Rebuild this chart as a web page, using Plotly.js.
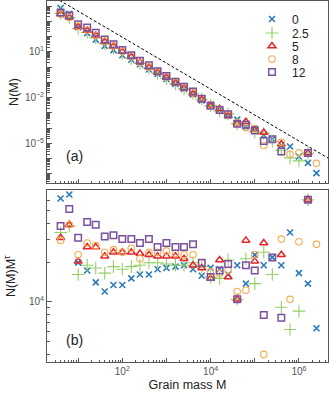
<!DOCTYPE html>
<html>
<head>
<meta charset="utf-8">
<script src="https://cdn.plot.ly/plotly-3.0.1.min.js"></script>
<style>html,body{margin:0;padding:0;background:#fff}</style>
</head>
<body>
<div id="chart" style="width:332px;height:398px"></div>
<script>
// grain mass bins (log spaced)
var grainMass = [4, 6.3, 10, 16, 25, 40, 63, 100, 160, 250, 400, 630,
  1e3, 1.6e3, 2.5e3, 4e3, 6.3e3, 1e4, 1.6e4, 2.5e4, 4e4, 6.3e4,
  1e5, 1.6e5, 2.5e5, 4e5, 6.3e5, 1e6, 1.6e6, 2.5e6];

var seriesNames = ['0', '2.5', '5', '8', '12'];
var seriesColors = ['#2b7bba', '#94d064', '#e4262b', '#f9a94f', '#7b509f'];

// panel (a): log10 N(M)
var logN_0 = [3.86, 3.48, 2.62, 2.22, 1.80, 1.39, 1.11, 0.77, 0.48, 0.18, -0.16, -0.45, -0.78, -1.11, -1.43, -1.80, -2.18, -2.46, -2.81, -3.18, -3.45, -3.92, -4.04, -4.46, -4.73, -5.13, -5.21, -5.86, -6.28, -6.95];
var logN_1 = [3.52, 3.24, 2.53, 2.26, 1.91, 1.53, 1.25, 0.89, 0.57, 0.25, -0.07, -0.40, -0.75, -1.10, -1.43, -1.75, -2.11, -2.53, -2.88, -3.07, -3.71, -3.73, -4.26, -4.36, -4.86, -5.45, -5.95, -6.15, -5.64, null];
var logN_2 = [3.48, 3.25, 2.63, 2.40, 2.07, 1.66, 1.36, 1.02, 0.68, 0.34, -0.01, -0.35, -0.69, -1.03, -1.38, -1.77, -2.12, -2.54, -2.74, -3.20, -3.71, -3.59, -4.09, -4.29, null, -5.05, null, null, -5.64, null];
var logN_3 = [3.46, 3.25, 2.68, 2.43, 2.08, 1.69, 1.38, 1.02, 0.71, 0.30, 0.01, -0.32, -0.65, -1.01, -1.35, -1.69, -2.08, -2.49, -2.84, -3.15, -3.65, -3.97, -4.04, -5.14, null, -4.93, -5.72, -5.62, null, -6.31];
var logN_4 = [3.57, 3.37, 2.81, 2.59, 2.24, 1.81, 1.49, 1.12, 0.78, 0.42, 0.11, -0.28, -0.59, -0.96, -1.29, -1.61, -2.08, -2.53, -2.82, -3.10, -3.71, -3.78, -4.16, -4.84, -4.73, -5.53, null, null, -5.64, null];

// panel (b): log10 N(M)M^tau
var logNM_0 = [4.79, 4.82, 4.30, 4.24, 4.15, 4.08, 4.13, 4.13, 4.18, 4.21, 4.21, 4.25, 4.26, 4.27, 4.28, 4.25, 4.20, 4.26, 4.25, 4.21, 4.28, 4.14, 4.36, 4.28, 4.34, 4.28, 4.53, 4.22, 4.14, 3.80];
var logNM_1 = [4.53, 4.58, 4.21, 4.28, 4.26, 4.22, 4.27, 4.25, 4.27, 4.28, 4.30, 4.30, 4.29, 4.28, 4.28, 4.30, 4.27, 4.19, 4.18, 4.32, 4.02, 4.33, 4.14, 4.38, 4.21, 3.96, 3.79, 3.93, 4.78, null];
var logNM_2 = [4.49, 4.59, 4.31, 4.42, 4.42, 4.35, 4.38, 4.38, 4.38, 4.37, 4.36, 4.35, 4.35, 4.35, 4.33, 4.28, 4.26, 4.18, 4.32, 4.19, 4.02, 4.47, 4.31, 4.45, null, 4.36, null, null, 4.78, null];
var logNM_3 = [4.47, 4.59, 4.36, 4.45, 4.43, 4.38, 4.40, 4.38, 4.41, 4.33, 4.38, 4.38, 4.39, 4.37, 4.36, 4.36, 4.30, 4.23, 4.22, 4.24, 4.08, 4.09, 4.36, 3.60, null, 4.48, 4.02, 4.46, null, 4.44];
var logNM_4 = [4.58, 4.71, 4.49, 4.61, 4.59, 4.50, 4.51, 4.48, 4.48, 4.45, 4.48, 4.42, 4.45, 4.42, 4.42, 4.44, 4.30, 4.19, 4.24, 4.29, 4.02, 4.28, 4.24, 3.90, 4.34, 3.88, null, null, 4.78, null];

// dashed reference line end points
var guideX = [3, 5e6];
var guideY = [3.5e4, 9.3e-7];

var logN = [logN_0, logN_1, logN_2, logN_3, logN_4];
var logNM = [logNM_0, logNM_1, logNM_2, logNM_3, logNM_4];

var markerSpecs = [
  {symbol: 'x-thin', size: 6, lw: 1.6},
  {symbol: 'cross-thin', size: 9, lw: 1.1},
  {symbol: 'triangle-up-open', size: 7, lw: 1.5},
  {symbol: 'circle-open', size: 6.5, lw: 1.1},
  {symbol: 'square-open', size: 6.5, lw: 1.5}
];

function unlog(a) {
  return a.map(function (v) { return v === null ? null : Math.pow(10, v); });
}

var traces = [{
  x: guideX, y: guideY, xaxis: 'x', yaxis: 'y',
  mode: 'lines', line: {color: '#000', width: 1, dash: '3px,2px'},
  showlegend: false, hoverinfo: 'skip'
}];

for (var i = 0; i < 5; i++) {
  var m = {symbol: markerSpecs[i].symbol, size: markerSpecs[i].size, color: seriesColors[i],
           line: {color: seriesColors[i], width: markerSpecs[i].lw}};
  traces.push({
    x: grainMass, y: unlog(logN[i]), xaxis: 'x', yaxis: 'y',
    mode: 'markers', name: seriesNames[i], marker: m,
    legend: i === 0 ? 'legend' : 'legend' + (i + 1)
  });
  traces.push({
    x: grainMass, y: unlog(logNM[i]), xaxis: 'x2', yaxis: 'y2',
    mode: 'markers', name: seriesNames[i], marker: m, showlegend: false
  });
}
// empty traces so the tick-only overlay axes get drawn
traces.push({x: [], y: [], xaxis: 'x', yaxis: 'y3', showlegend: false});
traces.push({x: [], y: [], xaxis: 'x3', yaxis: 'y2', showlegend: false});

function sup(e) { return '10<sup>' + (e < 0 ? '\u2212' + (-e) : e) + '</sup>'; }

function decades(list) { return list.map(function (e) { return Math.pow(10, e); }); }
function span(lo, hi) { var a = []; for (var e = lo; e <= hi; e++) a.push(e); return a; }

function minors(lo, hi) {
  var v = [];
  for (var e = lo; e < hi; e++)
    for (var d = 2; d <= 9; d++) v.push(d * Math.pow(10, e));
  return v;
}

var frame = '#555';
var tickFont = {family: 'Liberation Sans, Arial, sans-serif', size: 10, color: '#555'};
function logAxis(range, exps, minVals, extra) {
  var ax = {
    type: 'log', range: range, showline: true, linecolor: frame, linewidth: 1, mirror: true,
    ticks: 'inside', ticklen: 4.5, tickwidth: 1, tickcolor: frame,
    tickmode: 'array', tickvals: decades(exps), ticktext: exps.map(sup),
    showgrid: false, zeroline: false, automargin: false, tickfont: tickFont
  };
  if (minVals) ax.minor = {ticks: 'inside', ticklen: 2.5, tickwidth: 1, tickcolor: frame,
                           tickmode: 'array', tickvals: minVals, showgrid: false};
  for (var k in extra) ax[k] = extra[k];
  return ax;
}
// ticks only: unlabelled decades
function tickAxis(range, exps, extra) {
  var ax = {type: 'log', range: range, showline: false, showgrid: false, zeroline: false,
            ticks: 'inside', ticklen: 4.5, tickwidth: 1, tickcolor: frame,
            tickmode: 'array', tickvals: decades(exps), showticklabels: false};
  for (var k in extra) ax[k] = extra[k];
  return ax;
}

var titleFont = {family: 'Liberation Sans, Arial, sans-serif', size: 12.5, color: '#222'};
var xRange = [0.294, 6.659];
var yRangeA = [-7.6, 4.328];

var layout = {
  width: 332, height: 398,
  margin: {l: 47, r: 4, t: 1, b: 36},
  paper_bgcolor: '#fff', plot_bgcolor: '#fff',
  font: {family: 'Liberation Sans, Arial, sans-serif', color: '#222'},
  xaxis: logAxis(xRange, span(0, 7), minors(0, 7), {anchor: 'y', showticklabels: false}),
  yaxis: logAxis(yRangeA, [4, 1, -2, -5], minors(-8, 5),
    {domain: [0.4958, 1], anchor: 'x', title: {text: 'N(M)', font: titleFont, standoff: 3}}),
  yaxis3: tickAxis(yRangeA, [3, 2, 0, -1, -3, -4, -6, -7], {overlaying: 'y', anchor: 'x', side: 'left'}),
  xaxis2: logAxis(xRange, [2, 4, 6], minors(0, 7),
    {anchor: 'y2', title: {text: 'Grain mass M', font: titleFont, standoff: 4}}),
  xaxis3: tickAxis(xRange, [1, 3, 5], {overlaying: 'x2', anchor: 'y2', side: 'bottom'}),
  yaxis2: logAxis([3.542, 4.851], [4], minors(3, 5),
    {domain: [0, 0.4751], anchor: 'x2', title: {text: 'N(M)M<sup>\u03c4</sup>', font: titleFont, standoff: 10}}),
  annotations: [
    {text: '(a)', xref: 'paper', yref: 'paper', x: 0.0996, y: 0.5706, showarrow: false,
     font: {size: 14, color: '#222'}, xanchor: 'center', yanchor: 'middle'},
    {text: '(b)', xref: 'paper', yref: 'paper', x: 0.0996, y: 0.061, showarrow: false,
     font: {size: 14, color: '#222'}, xanchor: 'center', yanchor: 'middle'}
  ],
  showlegend: true
};

// one legend per row so the rows can sit as close as in the reference
var rowY = [19, 33, 46, 59, 72];
for (var r = 0; r < 5; r++) {
  var key = r === 0 ? 'legend' : 'legend' + (r + 1);
  layout[key] = {
    x: (252 - 47) / 281, xanchor: 'left',
    y: (362 - rowY[r]) / 361, yanchor: 'middle',
    bgcolor: 'rgba(0,0,0,0)', borderwidth: 0,
    font: {size: 12, color: '#222'}, itemsizing: 'trace'
  };
}

Plotly.newPlot('chart', traces, layout, {displayModeBar: false, staticPlot: true});
</script>
</body>
</html>
